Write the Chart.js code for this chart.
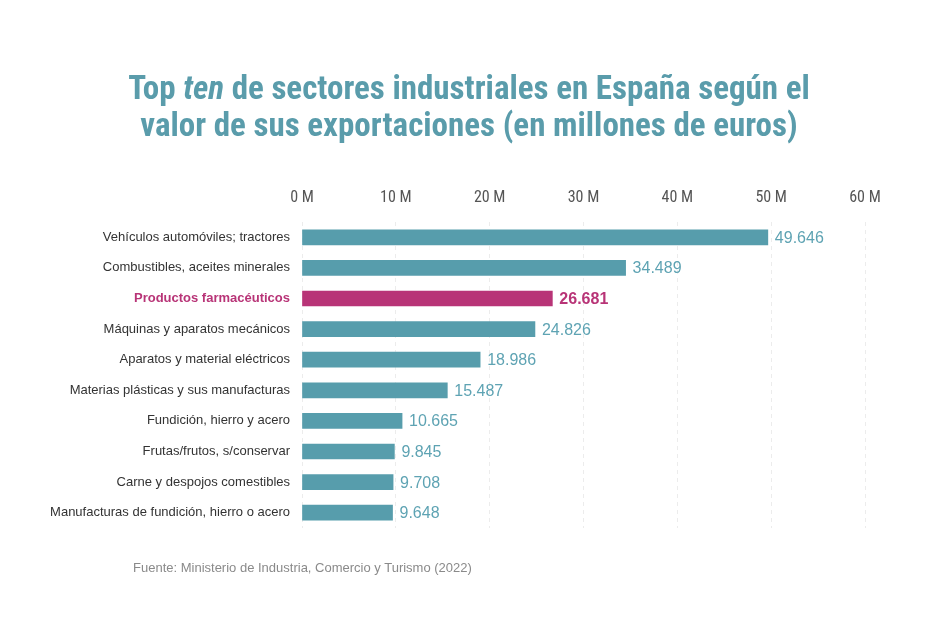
<!DOCTYPE html>
<html>
<head>
<meta charset="utf-8">
<script src="https://cdn.jsdelivr.net/npm/chart.js@4/dist/chart.umd.min.js"></script>
<style>
  html, body { margin: 0; padding: 0; background: #ffffff; }
  #wrap { position: relative; width: 938px; height: 620px; overflow: hidden; }
  #title {
    position: absolute; left: 0; top: 69px; width: 938px; text-align: center;
    font-family: "Liberation Sans Narrow", "Roboto Condensed", "Arial Narrow", Roboto, sans-serif;
    font-weight: bold; font-size: 33px; line-height: 37px; color: #5a9cab;
  }
  #title i { font-style: italic; }
  #source {
    position: absolute; left: 133px; top: 560px;
    font-family: "Liberation Sans", Arial, sans-serif; font-size: 13px; color: #8a8a8a;
  }
  canvas { position: absolute; left: 0; top: 0; }
</style>
</head>
<body>
<div id="wrap">
  <canvas id="c" width="938" height="620"></canvas>
  <div id="title">Top <i>ten</i> de sectores industriales en España según el<br>valor de sus exportaciones (en millones de euros)</div>
  <div id="source">Fuente: Ministerio de Industria, Comercio y Turismo (2022)</div>
</div>
<script>
const categories = [
  "Vehículos automóviles; tractores",
  "Combustibles, aceites minerales",
  "Productos farmacéuticos",
  "Máquinas y aparatos mecánicos",
  "Aparatos y material eléctricos",
  "Materias plásticas y sus manufacturas",
  "Fundición, hierro y acero",
  "Frutas/frutos, s/conservar",
  "Carne y despojos comestibles",
  "Manufacturas de fundición, hierro o acero"
];
const exportValues = [49646, 34489, 26681, 24826, 18986, 15487, 10665, 9845, 9708, 9648];
const tickValues = [0, 10000, 20000, 30000, 40000, 50000, 60000];
const tickLabels = ["0 M", "10 M", "20 M", "30 M", "40 M", "50 M", "60 M"];
const highlightIndex = 2;

const TEAL = "#579dac";
const MAGENTA = "#b83477";

function fmt(v) {
  return String(v).replace(/\B(?=(\d{3})+(?!\d))/g, ".");
}

const valueLabels = {
  id: "valueLabels",
  afterDatasetsDraw(chart) {
    const ctx = chart.ctx;
    const meta = chart.getDatasetMeta(0);
    ctx.save();
    ctx.textBaseline = "middle";
    ctx.textAlign = "left";
    meta.data.forEach((bar, i) => {
      const hl = i === highlightIndex;
      ctx.fillStyle = hl ? MAGENTA : "#5ea3b3";
      ctx.font = (hl ? "bold " : "") + "16px 'Liberation Sans', Arial, sans-serif";
      ctx.fillText(fmt(exportValues[i]), bar.x + 7, bar.y + 1);
    });
    ctx.restore();
  }
};

new Chart(document.getElementById("c"), {
  type: "bar",
  data: {
    labels: categories,
    datasets: [{
      data: exportValues,
      backgroundColor: exportValues.map((v, i) => i === highlightIndex ? MAGENTA : TEAL),
      borderWidth: 0,
      barThickness: 15
    }]
  },
  options: {
    indexAxis: "y",
    responsive: false,
    animation: false,
    layout: { padding: { top: 180, right: 73, bottom: 92, left: 0 } },
    plugins: { legend: { display: false }, tooltip: { enabled: false } },
    scales: {
      x: {
        position: "top",
        min: 0, max: 60000,
        afterBuildTicks(scale) { scale.ticks = tickValues.map(v => ({ value: v })); },
        afterFit(scale) { scale.height = 42; },
        border: { display: false, dash: [4, 4] },
        grid: { color: "#ececec", drawTicks: false, lineWidth: 1 },
        ticks: {
          padding: 14,
          color: "#555555",
          font: { family: "'Liberation Sans Narrow', 'Roboto Condensed', Roboto, sans-serif", size: 16 },
          callback: (v, i) => tickLabels[i]
        }
      },
      y: {
        afterFit(scale) { scale.width = 302; },
        border: { display: false },
        grid: { display: false, drawTicks: false },
        ticks: {
          padding: 12,
          color: ctx => ctx.index === highlightIndex ? MAGENTA : "#333333",
          font: ctx => ({
            family: "'Liberation Sans', Arial, sans-serif",
            size: 13,
            weight: ctx.index === highlightIndex ? "bold" : "normal"
          })
        }
      }
    }
  },
  plugins: [valueLabels]
});
</script>
</body>
</html>
